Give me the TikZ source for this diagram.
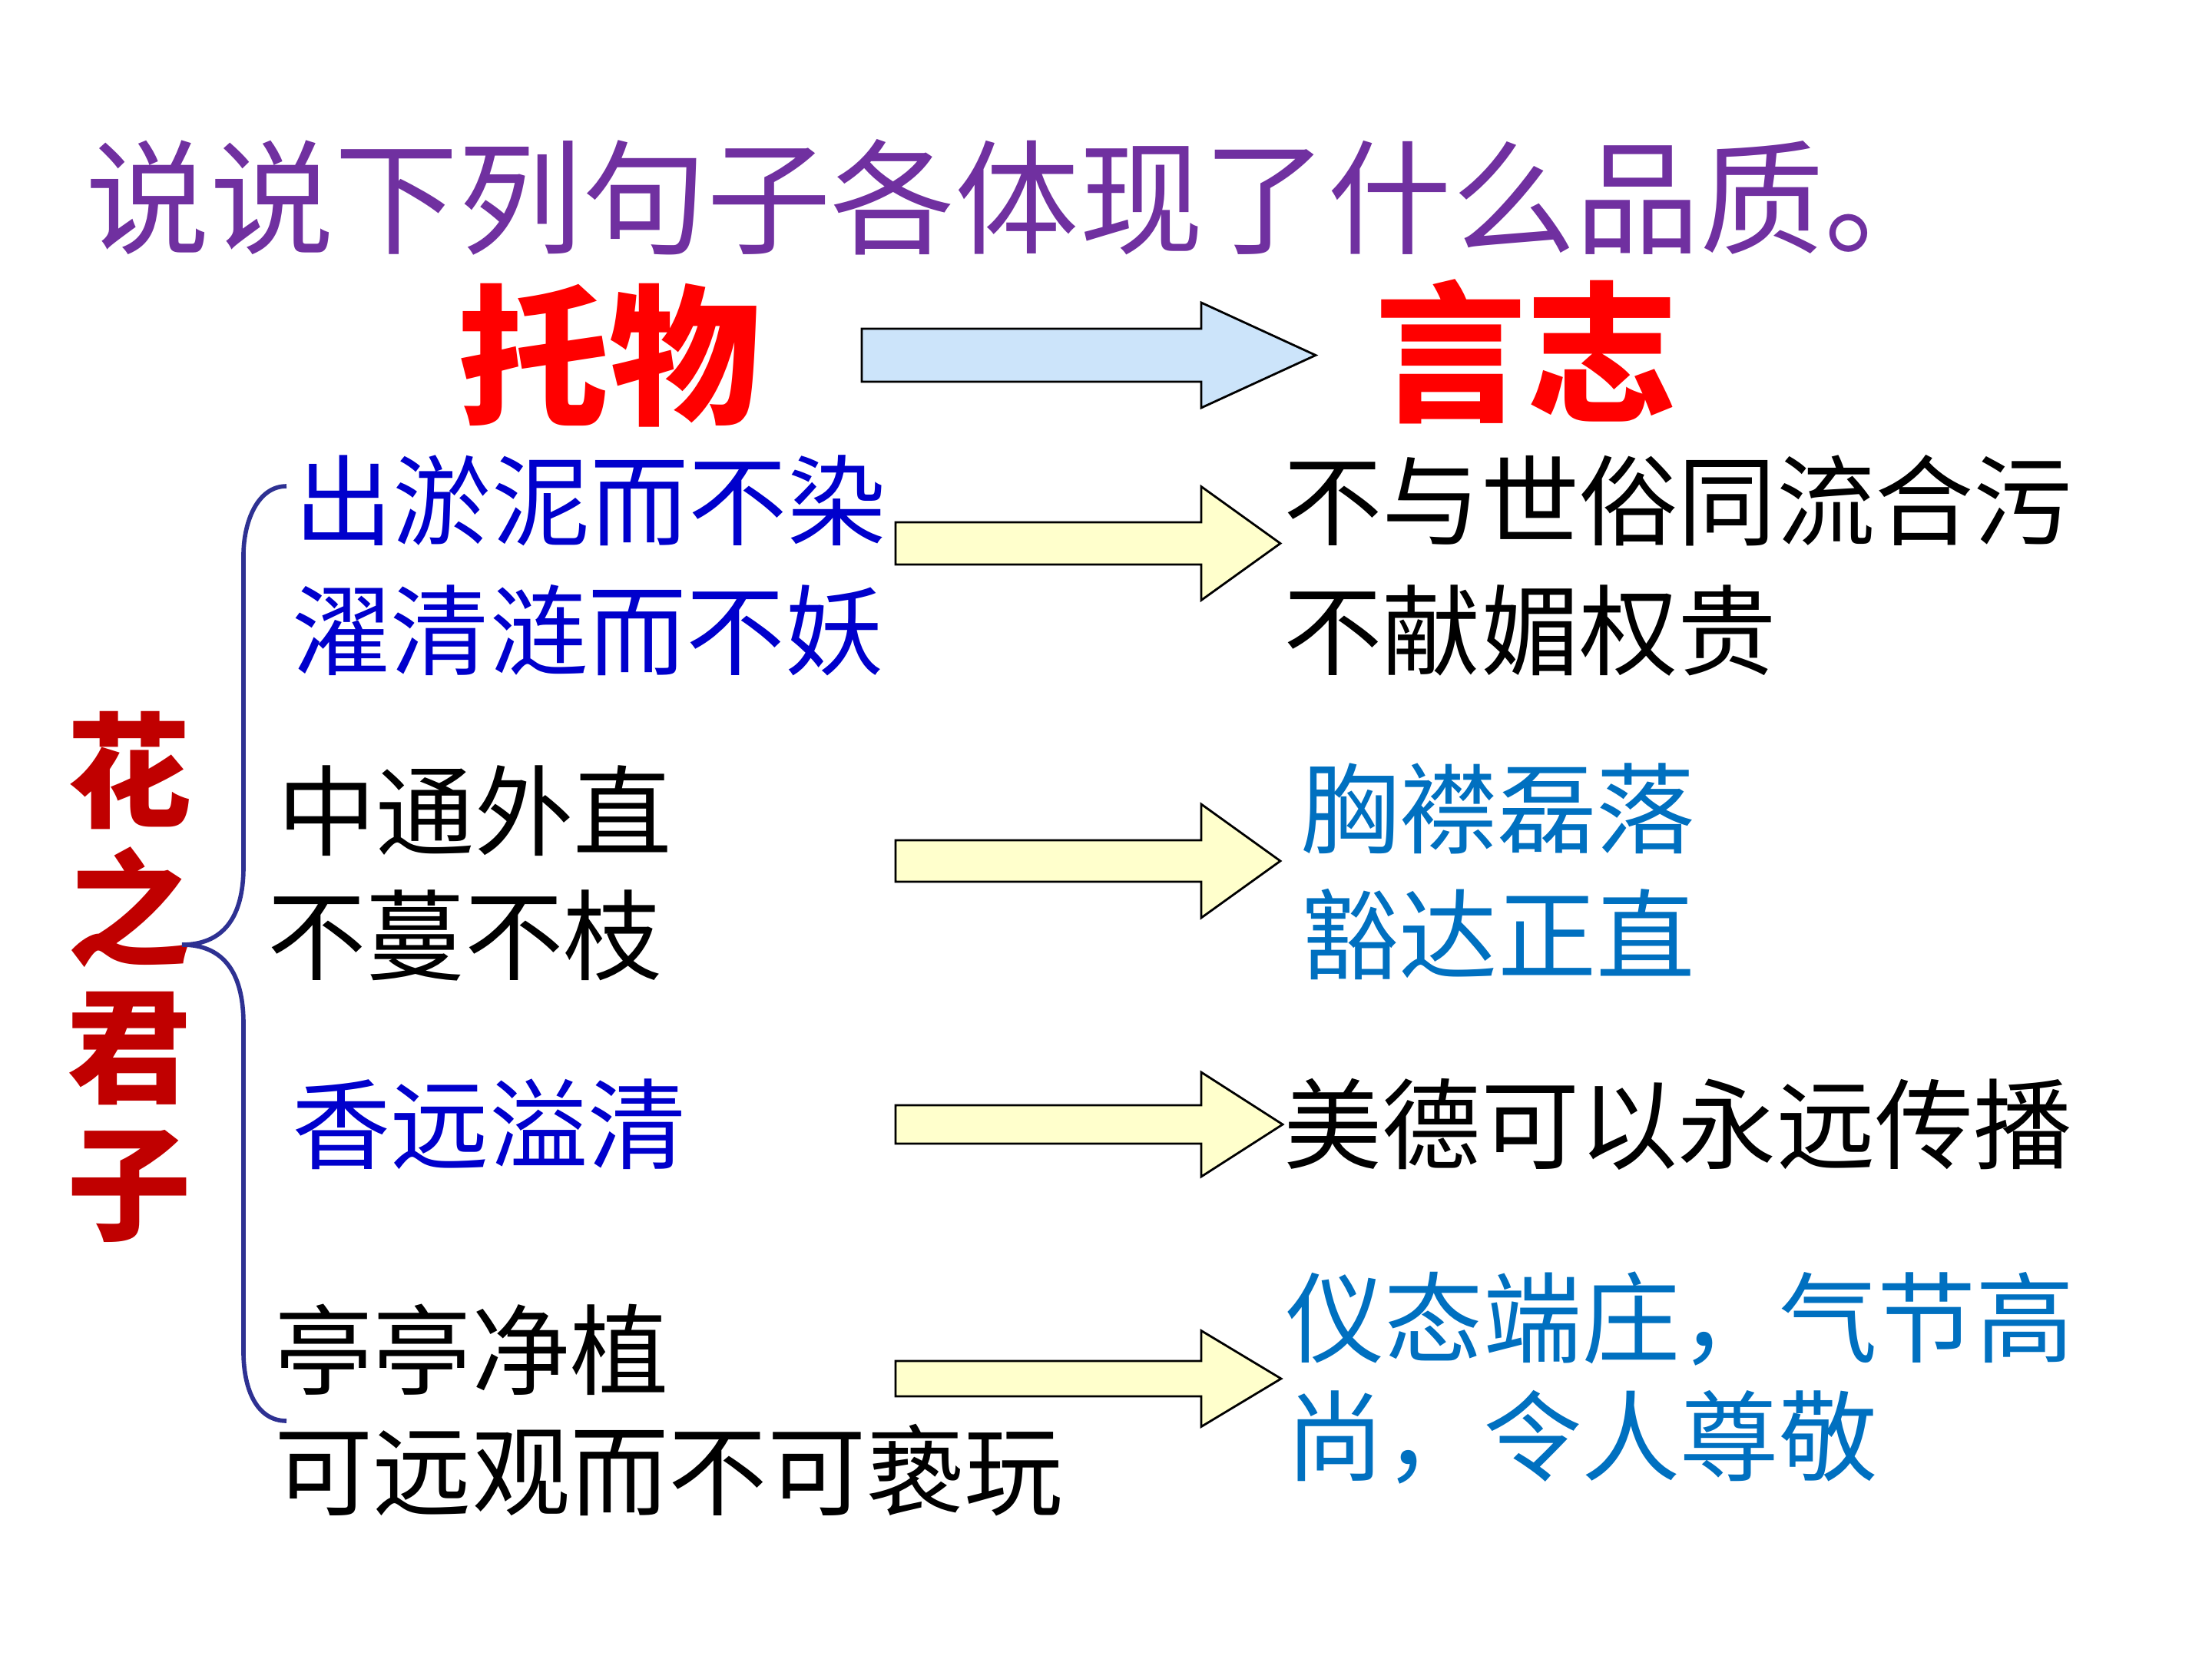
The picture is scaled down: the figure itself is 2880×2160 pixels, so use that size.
\documentclass[tikz,border=0pt]{standalone}
\usepackage{fontspec}
\setmainfont{Noto Sans CJK SC}
\definecolor{titlepurple}{HTML}{7030A0}
\definecolor{leftblue}{HTML}{0000CC}
\definecolor{rightblue}{HTML}{0070C0}
\definecolor{darkred}{HTML}{C00000}
\definecolor{bracecol}{HTML}{2E3192}
\definecolor{arrowblue}{HTML}{CCE4FA}
\definecolor{arrowyellow}{HTML}{FFFFCC}
\tikzset{
  txt/.style={anchor=west, inner sep=0pt, font=\fontsize{36.5}{40}\selectfont},
  lb/.style={txt, text=leftblue},
  rb/.style={txt, text=rightblue},
  bk/.style={txt, text=black},
  titletxt/.style={anchor=west, inner sep=0pt, text=titlepurple, font=\fontsize{46}{50}\selectfont},
  bigtxt/.style={anchor=west, inner sep=0pt, text=red, font=\fontsize{56}{60}\selectfont\bfseries},
  verttxt/.style={inner sep=0pt, text=darkred, align=center, font=\fontsize{46}{51}\selectfont\bfseries},
  bracestyle/.style={draw=bracecol, line width=1.6pt},
  blockarrow/.style={draw=black, line width=0.8pt, line join=miter}
}
% #1 fill, #2 y centre, #3 shaft half height, #4 head half height, #5 left x, #6 head base x, #7 tip x
\newcommand\blockarrowshape[7]{%
  \filldraw[blockarrow, fill=#1] (#5,#2-#3) -- (#6,#2-#3) -- (#6,#2-#4) -- (#7,#2)
    -- (#6,#2+#4) -- (#6,#2+#3) -- (#5,#2+#3) -- cycle;}
\begin{document}
\begin{tikzpicture}[x=0.1mm,y=-0.1mm]
\useasboundingbox[fill=white] (0,0) rectangle (2880,2160);

\node[titletxt] (title) at (111,257) {说说下列句子各体现了什么品质。};
\node[bigtxt] (tuowu) at (596,463) {托物};
\node[bigtxt] (yanzhi) at (1790,458) {言志};

\blockarrowshape{arrowblue}{462.5}{34.5}{68.5}{1122}{1564}{1713}

\node[lb] (l1a) at (383,652) {出淤泥而不染};
\node[lb] (l1b) at (380,821) {濯清涟而不妖};
\node[bk] (r1a) at (1671,652) {不与世俗同流合污};
\node[bk] (r1b) at (1671,821) {不献媚权贵};

\node[bk] (l2a) at (361,1056) {中通外直};
\node[bk] (l2b) at (348,1218) {不蔓不枝};
\node[rb] (r2a) at (1693,1053) {胸襟磊落};
\node[rb] (r2b) at (1693,1216) {豁达正直};

\node[lb] (l3) at (380,1464) {香远溢清};
\node[bk] (r3) at (1671,1464) {美德可以永远传播};

\node[bk] (l4a) at (357,1757) {亭亭净植};
\node[bk] (l4b) at (357,1914) {可远观而不可亵玩};
\node[rb] (r4a) at (1674,1717) {仪态端庄，气节高};
\node[rb] (r4b) at (1674,1871) {尚，令人尊敬};

\node[verttxt] (hua) at (168,1272) {花\\之\\君\\子};

\blockarrowshape{arrowyellow}{707.5}{27.5}{74}{1166}{1564}{1667}
\blockarrowshape{arrowyellow}{1121}{27}{74}{1166}{1564}{1667}
\blockarrowshape{arrowyellow}{1464}{25}{68}{1166}{1564}{1670}
\blockarrowshape{arrowyellow}{1795}{23}{62.5}{1166}{1564}{1668}

\coordinate (bracetop) at (373,633);
\coordinate (bracetip) at (237,1230);
\coordinate (bracebot) at (373,1850);
\draw[bracestyle] (bracetop) .. controls (335,633) and (317,680) .. (317,723)
  -- (317,1129) .. controls (317,1195) and (290,1230) .. (bracetip)
  .. controls (290,1230) and (317,1265) .. (317,1333)
  -- (317,1760) .. controls (317,1810) and (335,1850) .. (bracebot);
\end{tikzpicture}
\end{document}
